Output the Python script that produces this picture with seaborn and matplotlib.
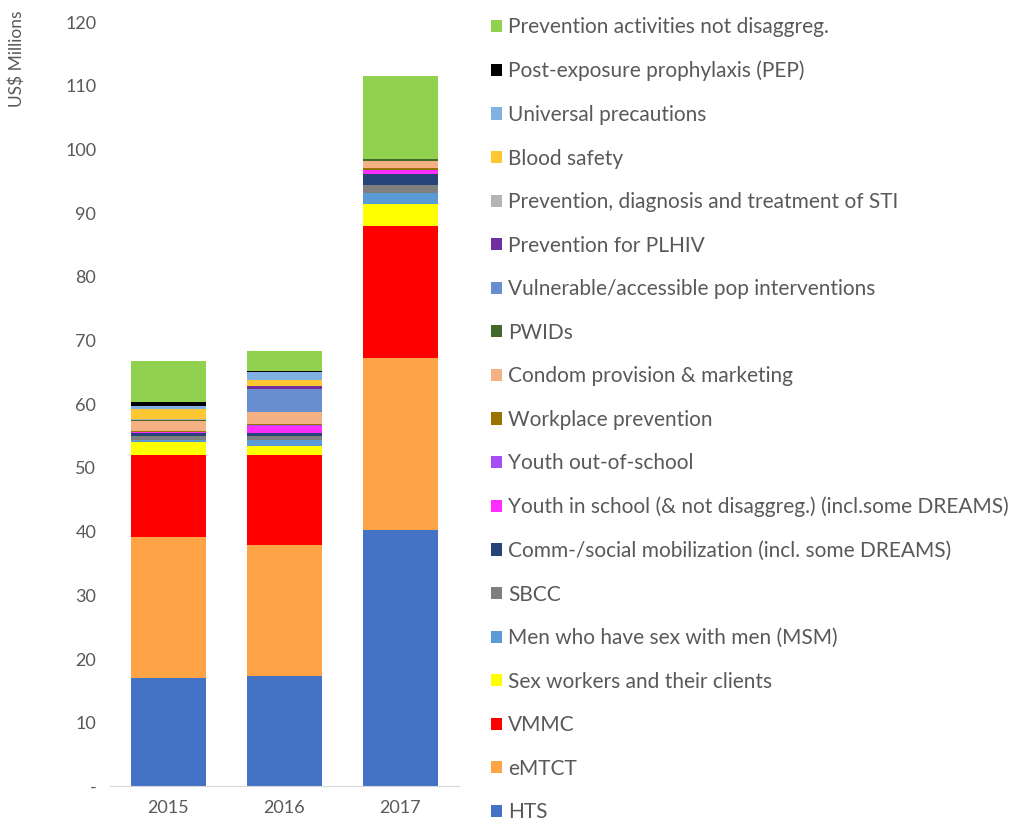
import pandas as pd
import numpy as np
import matplotlib
matplotlib.use("Agg")
import matplotlib.pyplot as plt
import seaborn as sns
from matplotlib.patches import Patch

# years on the x axis
years = [2015, 2016, 2017]

# categories, listed top of the stack first (same order as the legend)
categories = [
    "Prevention activities not disaggreg.",
    "Post-exposure prophylaxis (PEP)",
    "Universal precautions",
    "Blood safety",
    "Prevention, diagnosis and treatment of STI",
    "Prevention for PLHIV",
    "Vulnerable/accessible pop interventions",
    "PWIDs",
    "Condom provision & marketing",
    "Workplace prevention",
    "Youth out-of-school",
    "Youth in school (& not disaggreg.) (incl.some DREAMS)",
    "Comm-/social mobilization (incl. some DREAMS)",
    "SBCC",
    "Men who have sex with men (MSM)",
    "Sex workers and their clients",
    "VMMC",
    "eMTCT",
    "HTS",
]

colors = [
    "#92D050", "#000000", "#7FB2E0", "#FFC832", "#B4B4B4", "#7030A0",
    "#698ED0", "#43682B", "#F4B183", "#997300", "#A64DF5", "#FF2DFF",
    "#264478", "#7F7F7F", "#5B9BD5", "#FFFF00", "#FF0000", "#FFA347",
    "#4472C4",
]

# US$ millions per year, same order as categories
v2015 = [6.5, 0.5, 0.6, 1.5, 0.1, 0.0, 0.0, 0.2, 1.6, 0.15, 0.05, 0.1,
         0.5, 0.6, 0.3, 2.1, 12.8, 22.1, 17.1]
v2016 = [3.2, 0.1, 1.3, 0.9, 0.0, 0.5, 3.55, 0.05, 1.9, 0.1, 0.1, 1.2,
         0.5, 0.5, 1.0, 1.45, 14.1, 20.5, 17.4]
v2017 = [13.0, 0.0, 0.0, 0.0, 0.0, 0.0, 0.0, 0.3, 1.15, 0.2, 0.0, 0.7,
         1.8, 1.15, 1.7, 3.5, 20.7, 27.0, 40.3]

df = pd.DataFrame({
    "year": np.repeat(years, len(categories)),
    "category": categories * 3,
    "value": v2015 + v2016 + v2017,
})

sns.set_style("white")
plt.rcParams["font.family"] = ["Lato", "DejaVu Sans"]

fig = plt.figure(figsize=(10.1, 8.25), dpi=100)
ax = fig.add_axes([0.109, 0.0467, 0.345, 0.9266])

# histplot stacks the first hue level on top
sns.histplot(data=df, x="year", weights="value", hue="category",
             hue_order=categories, palette=colors, multiple="stack",
             discrete=True, shrink=0.645, alpha=1, linewidth=0,
             legend=False, ax=ax)

ax.set_xlim(2014.5, 2017.5)
ax.set_ylim(0, 120)
ax.set_xticks(years)
ax.set_xticklabels([str(y) for y in years], fontsize=13, color="#595959")
yt = list(range(0, 121, 10))
ax.set_yticks(yt)
ax.set_yticklabels(["-"] + [str(t) for t in yt[1:]], fontsize=13, color="#595959")
ax.tick_params(length=0, pad=10)
ax.set_xlabel("")
ax.set_ylabel("")
for s in ["top", "right", "left"]:
    ax.spines[s].set_visible(False)
ax.spines["bottom"].set_color("#D9D9D9")

fig.text(0.008, 0.987, "US$ Millions", rotation=90, va="top", ha="left",
         fontsize=12.5, color="#595959")

handles = [Patch(facecolor=c, edgecolor="none") for c in colors]
fig.legend(handles, categories, loc="upper left",
           bbox_to_anchor=(0.486, 0.979), frameon=False, fontsize=15,
           handlelength=0.53, handleheight=0.53, handletextpad=0.3,
           labelspacing=1.13, borderpad=0, borderaxespad=0,
           labelcolor="#595959")

fig.savefig("out.png", dpi=100)
